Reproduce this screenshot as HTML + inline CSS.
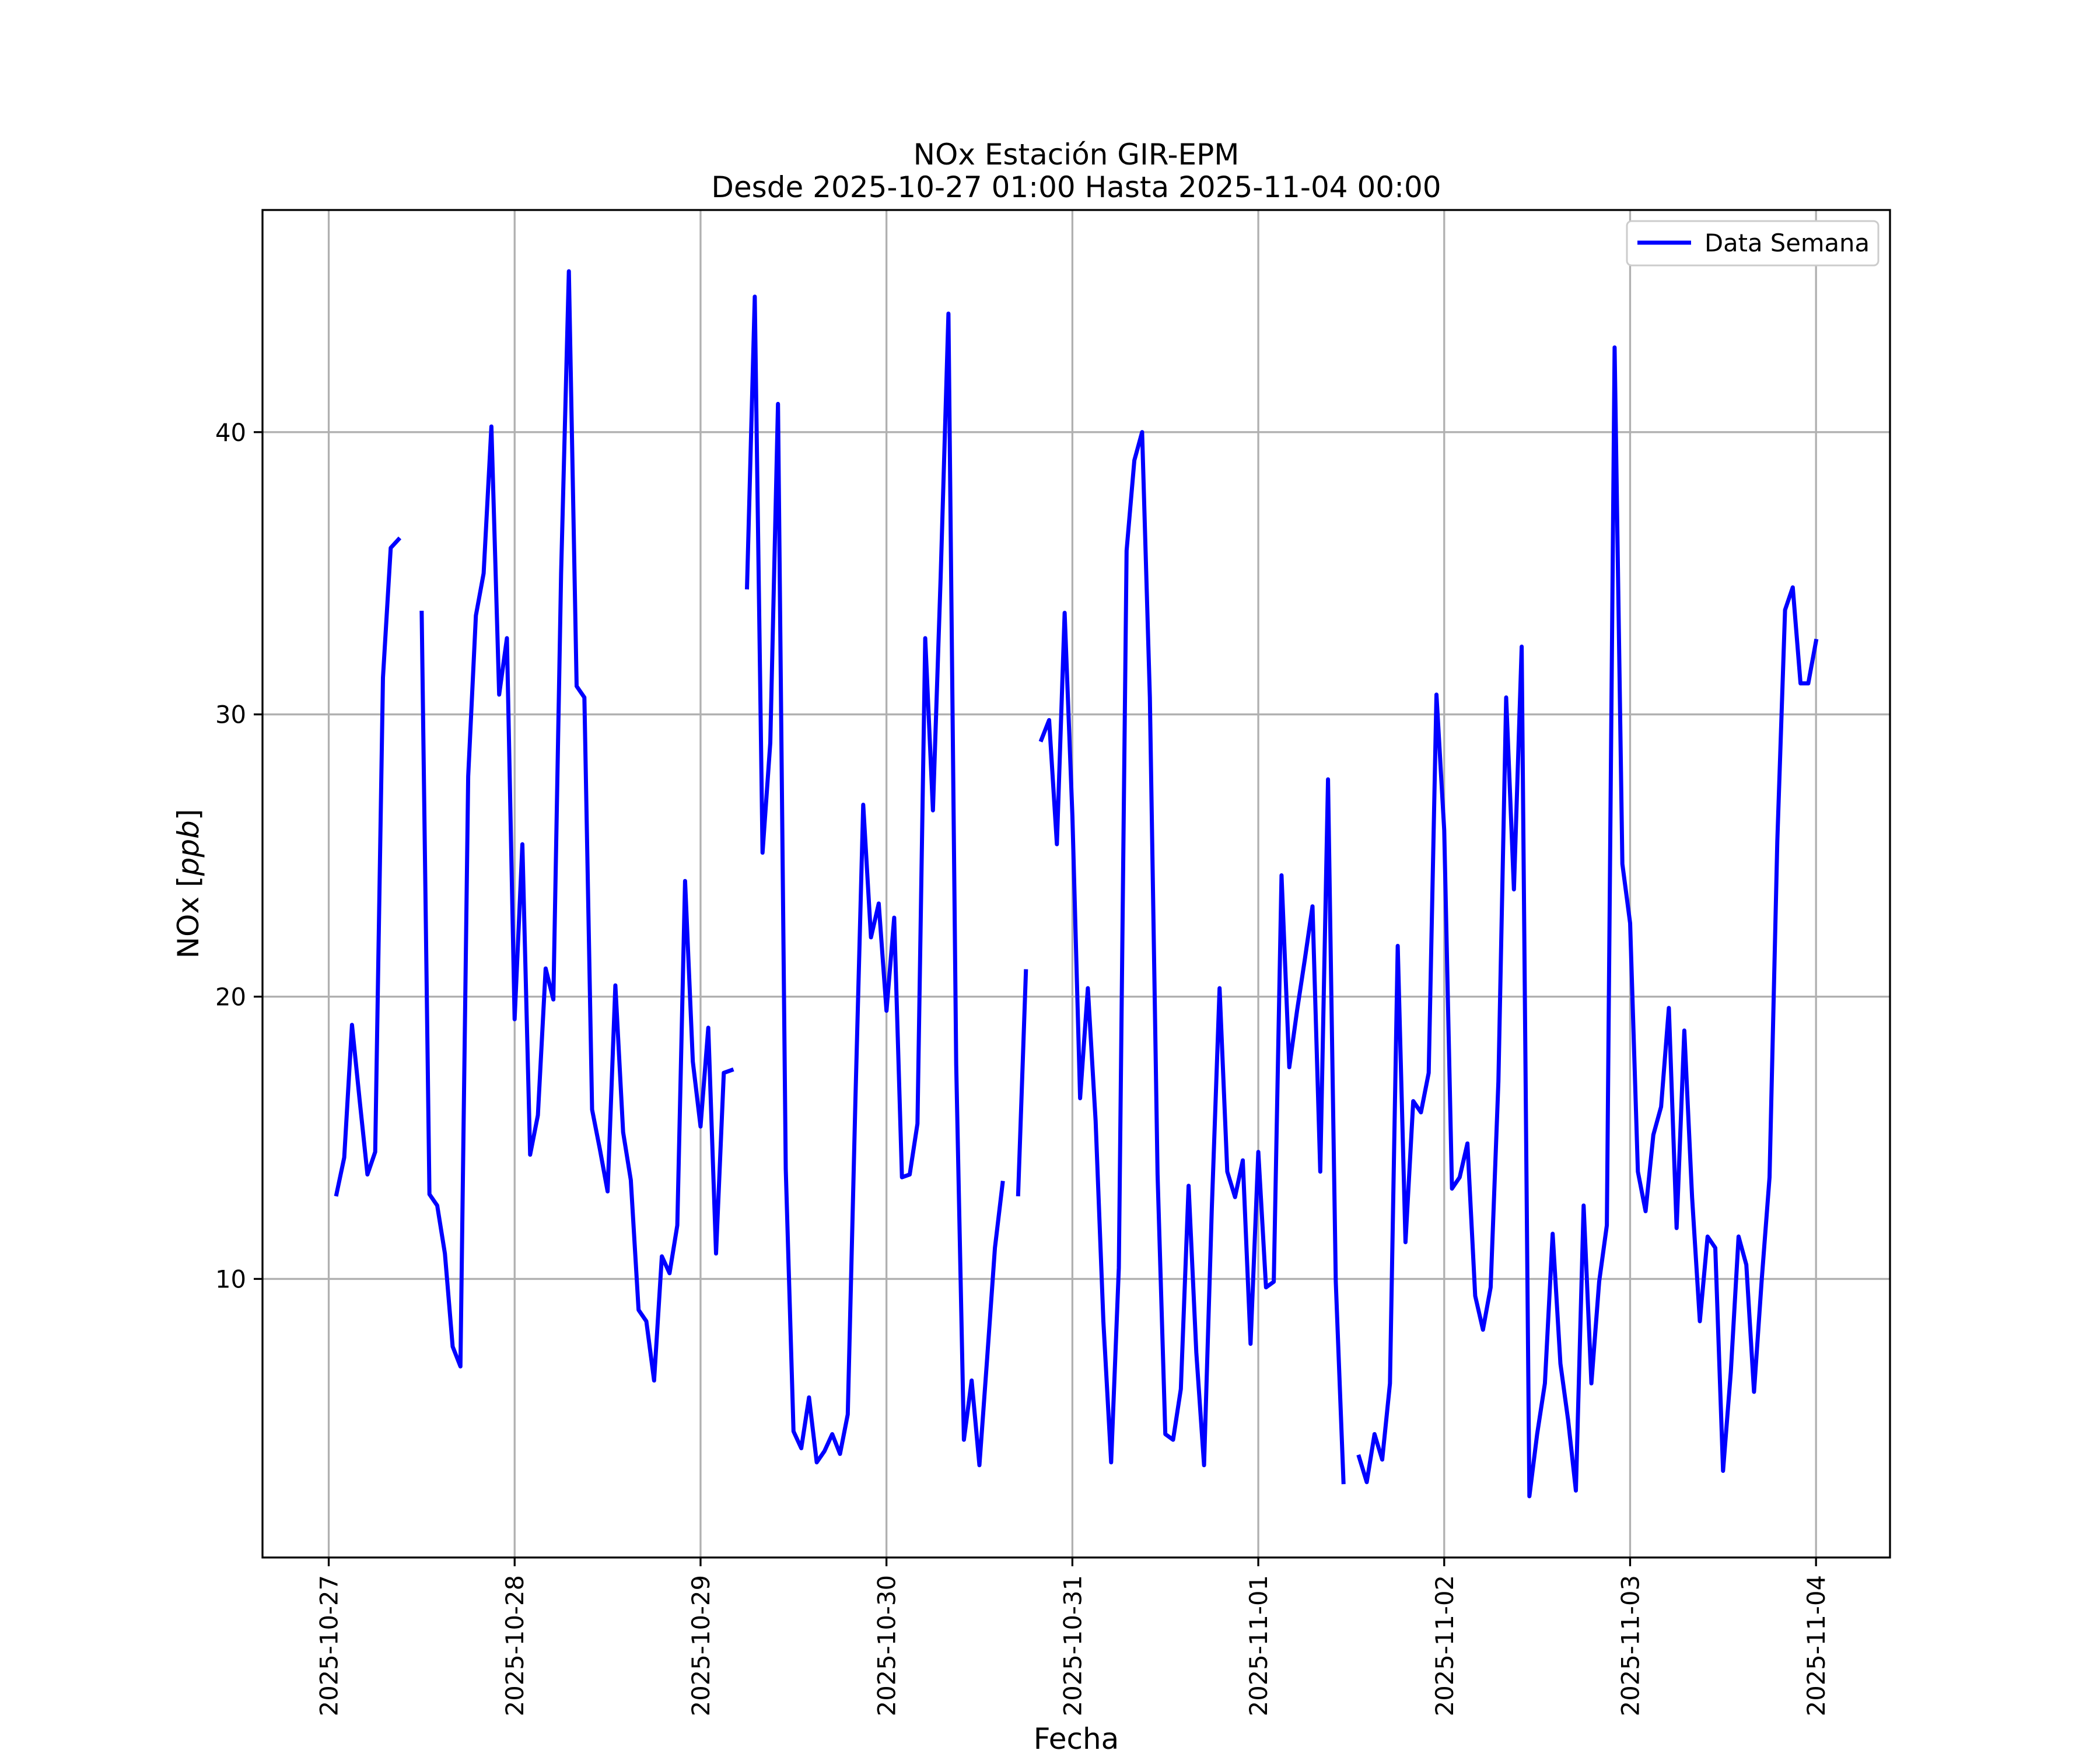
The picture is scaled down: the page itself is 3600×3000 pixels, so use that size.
<!DOCTYPE html>
<html><head><meta charset="utf-8"><style>
html,body{margin:0;padding:0;background:#fff;}
svg{display:block;font-family:"DejaVu Sans","Liberation Sans",sans-serif;}
</style></head><body>
<svg id="chart" width="3600" height="3000" viewBox="0 0 3600 3000" xmlns="http://www.w3.org/2000/svg">
<rect x="0" y="0" width="3600" height="3000" fill="#fff"/>
<g id="grid"></g>
<g id="series"></g>
<g id="axes"></g>
<text x="1845" y="282" font-size="50" text-anchor="middle">NOx Estación GIR-EPM</text>
<text x="1845" y="338" font-size="50" text-anchor="middle">Desde 2025-10-27 01:00 Hasta 2025-11-04 00:00</text>
<text x="1845" y="2998" font-size="50" text-anchor="middle">Fecha</text>
<text transform="translate(340,1515) rotate(-90)" font-size="50" text-anchor="middle">NOx [<tspan font-style="italic">ppb</tspan>]</text>
<g>
<rect x="2789" y="379" width="431" height="76" rx="8" fill="#fff" stroke="#ccc" stroke-width="3"/>
<line x1="2807" y1="416" x2="2899" y2="416" stroke="#0000ff" stroke-width="7"/>
<text x="2922" y="431" font-size="41.7">Data Semana</text>
</g>
</svg>
<script>
const yTicks = [10, 20, 30, 40];
const xTickLabels = ["2025-10-27","2025-10-28","2025-10-29","2025-10-30","2025-10-31","2025-11-01","2025-11-02","2025-11-03","2025-11-04"];
const hours = Array.from({length:192},(_,i)=>i+1);
const nox = [
13.0,14.3,19.0,16.3,13.7,14.5,31.3,35.9,36.2,null,null,33.6,13.0,12.6,10.9,7.6,6.9,27.8,33.5,35.0,40.2,30.7,32.7,19.2,
25.4,14.4,15.8,21.0,19.9,35.0,45.7,31.0,30.6,16.0,14.6,13.1,20.4,15.2,13.5,8.9,8.5,6.4,10.8,10.2,11.9,24.1,17.7,15.4,
18.9,10.9,17.3,17.4,null,34.5,44.8,25.1,29.0,41.0,13.9,4.6,4.0,5.8,3.5,3.9,4.5,3.8,5.2,16.4,26.8,22.1,23.3,19.5,
22.8,13.6,13.7,15.5,32.7,26.6,34.9,44.2,17.6,4.3,6.4,3.4,7.2,11.1,13.4,null,13.0,20.9,null,29.1,29.8,25.4,33.6,26.4,
16.4,20.3,15.6,8.5,3.5,10.4,35.8,39.0,40.0,30.6,13.7,4.5,4.3,6.1,13.3,7.4,3.4,12.5,20.3,13.8,12.9,14.2,7.7,14.5,
9.7,9.9,24.3,17.5,19.5,21.3,23.2,13.8,27.7,9.9,2.8,null,3.7,2.8,4.5,3.6,6.3,21.8,11.3,16.3,15.9,17.3,30.7,25.9,
13.2,13.6,14.8,9.4,8.2,9.7,17.0,30.6,23.8,32.4,2.3,4.5,6.3,11.6,7.0,5.0,2.5,12.6,6.3,9.9,11.9,43.0,24.7,22.6,
13.8,12.4,15.1,16.1,19.6,11.8,18.8,12.9,8.5,11.5,11.1,3.2,6.7,11.5,10.5,6.0,10.0,13.6,25.5,33.7,34.5,31.1,31.1,32.6
];
const L=450,R=3240,T=360,B=2670;
const vals=nox.filter(v=>v!==null);
const hMin=Math.min(...hours), hMax=Math.max(...hours), hPad=(hMax-hMin)*0.05;
const vMin=Math.min(...vals), vMax=Math.max(...vals), vPad=(vMax-vMin)*0.05;
function xs(h){return L+(h-(hMin-hPad))/((hMax-hMin)+2*hPad)*(R-L);}
function ys(v){return B-(v-(vMin-vPad))/((vMax-vMin)+2*vPad)*(B-T);}
const NS="http://www.w3.org/2000/svg";
const grid=document.getElementById('grid'), axes=document.getElementById('axes'), series=document.getElementById('series');
function mk(tag,attrs,parent){const e=document.createElementNS(NS,tag);for(const k in attrs)e.setAttribute(k,attrs[k]);parent.appendChild(e);return e;}
xTickLabels.forEach((lab,i)=>{
  const x=xs(i*24);
  const g=mk('line',{x1:x,y1:T,x2:x,y2:B,stroke:'#b0b0b0','stroke-width':3.3},grid);
  
  
  const t=mk('line',{x1:x,y1:B,x2:x,y2:B+15,stroke:'#000','stroke-width':3.3},axes);
  
  
  const tx=mk('text',{transform:`translate(${x+15},${B+30}) rotate(-90)`,'font-size':41.7,'text-anchor':'end'},axes);
  tx.textContent=lab;
  
  
});
yTicks.forEach(v=>{
  const y=ys(v);
  const g=mk('line',{x1:L,y1:y,x2:R,y2:y,stroke:'#b0b0b0','stroke-width':3.3},grid);
  
  
  const t=mk('line',{x1:L-15,y1:y,x2:L,y2:y,stroke:'#000','stroke-width':3.3},axes);
  
  
  const tx=mk('text',{x:L-28,y:y+15,'font-size':41.7,'text-anchor':'end'},axes);
  tx.textContent=v;
  
  
});
const frame=mk('rect',{x:L,y:T,width:R-L,height:B-T,fill:'none',stroke:'#000','stroke-width':3.3},axes);


let d='',pen=false;
hours.forEach((h,i)=>{
  const v=nox[i];
  if(v===null||v===undefined){pen=false;return;}
  d+=(pen?'L':'M')+xs(h).toFixed(1)+' '+ys(v).toFixed(1)+' ';
  pen=true;
});
const p=mk('path',{d:d,fill:'none',stroke:'#0000ff','stroke-width':7,'stroke-linejoin':'round','stroke-linecap':'square'},series);


</script>
</body></html>
